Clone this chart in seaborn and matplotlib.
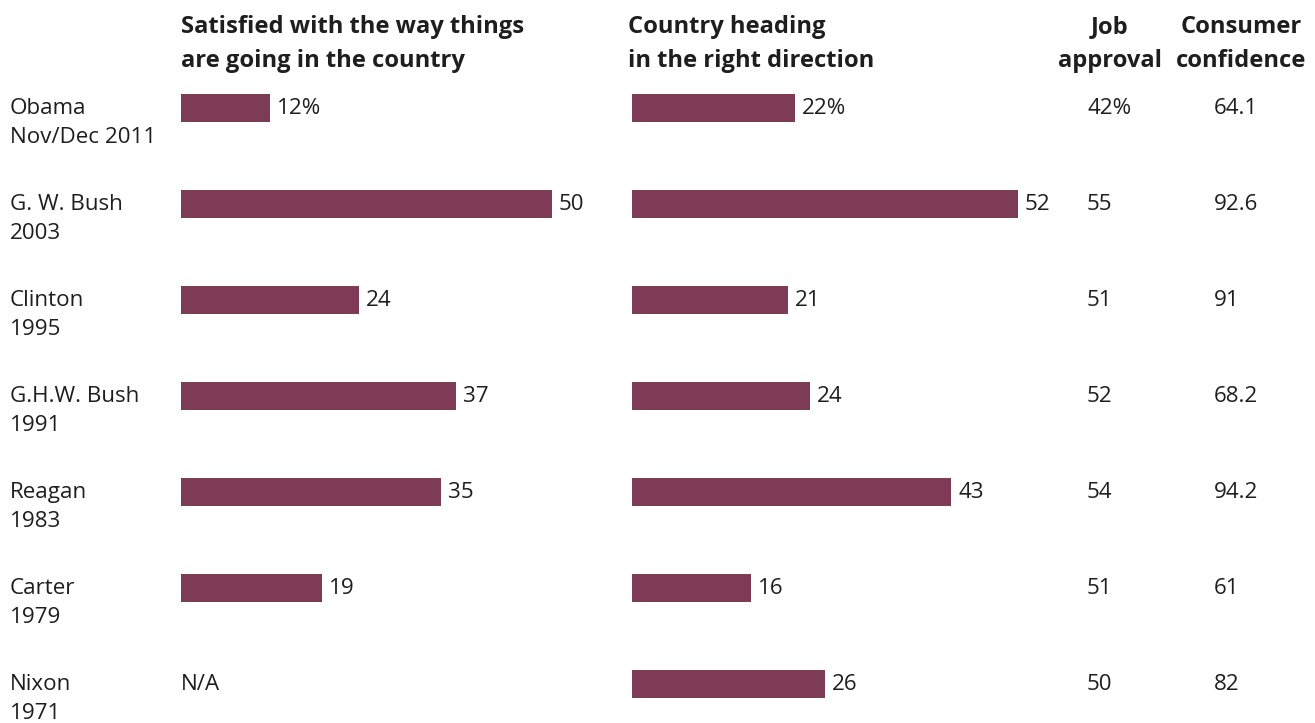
import numpy as np
import pandas as pd
import matplotlib
matplotlib.use("Agg")
import matplotlib.pyplot as plt
import matplotlib.transforms as mtransforms
import seaborn as sns

presidents = ["Obama", "G. W. Bush", "Clinton", "G.H.W. Bush", "Reagan", "Carter", "Nixon"]
years = ["Nov/Dec 2011", "2003", "1995", "1991", "1983", "1979", "1971"]
satisfied = [12, 50, 24, 37, 35, 19, np.nan]
right_direction = [22, 52, 21, 24, 43, 16, 26]
job_approval = [42, 55, 51, 52, 54, 51, 50]
consumer_confidence = [64.1, 92.6, 91, 68.2, 94.2, 61, 82]

sns.set_theme(style="white")
plt.rcParams["font.family"] = ["Open Sans", "DejaVu Sans"]

W, H = 1315, 723
BAR = "#7D3B55"
TXT = "#1e1e1e"
FS = 16.1
HFS = 17.1
ROW_PX = 96.0

df = pd.DataFrame({
    "row": [str(i) for i in range(len(presidents))],
    "satisfied": satisfied,
    "right": right_direction,
})

fig = plt.figure(figsize=(W / 100, H / 100), dpi=100)
fig.patch.set_facecolor("white")

def px_axes(x0, x1, y0, y1):
    return fig.add_axes([x0 / W, 1 - y1 / H, (x1 - x0) / W, (y1 - y0) / H])

scale = 7.42  # px per unit
top_px = 108 - 0.5 * ROW_PX
bottom_px = top_px + 6.9 * ROW_PX
ax_l = px_axes(181, 181 + 60 * scale, top_px, bottom_px)
ax_r = px_axes(632, 632 + 60 * scale, top_px, bottom_px)

name_dy = 6 / ROW_PX
year_dy = 35 / ROW_PX

for ax, col in ((ax_l, "satisfied"), (ax_r, "right")):
    sns.barplot(data=df, x=col, y="row", orient="h", color=BAR, width=0.29,
                saturation=1, linewidth=0, ax=ax)
    ax.set_xlim(0, 60)
    ax.set_ylim(6.4, -0.5)
    ax.axis("off")
    vals = df[col].tolist()
    for i, v in enumerate(vals):
        if np.isnan(v):
            ax.text(0, i + name_dy, "N/A", ha="left", va="baseline", fontsize=FS,
                    color=TXT)
            continue
        lab = f"{v:g}" + ("%" if i == 0 else "")
        off = mtransforms.offset_copy(ax.transData, fig=fig, x=7, y=0, units="dots")
        ax.text(v, i + name_dy, lab, ha="left", va="baseline", fontsize=FS,
                color=TXT, transform=off)

# row labels and extra columns
tr = mtransforms.blended_transform_factory(fig.transFigure, ax_l.transData)
for i, (p, y) in enumerate(zip(presidents, years)):
    ax_l.text(10 / W, i + name_dy, p, transform=tr, ha="left", va="baseline",
              fontsize=FS, color=TXT, clip_on=False)
    ax_l.text(10 / W, i + year_dy, y, transform=tr, ha="left", va="baseline",
              fontsize=FS, color=TXT, clip_on=False)
    ja = f"{job_approval[i]}" + ("%" if i == 0 else "")
    ax_l.text(1087 / W, i + name_dy, ja, transform=tr, ha="left", va="baseline",
              fontsize=FS, color=TXT, clip_on=False)
    ax_l.text(1214 / W, i + name_dy, f"{consumer_confidence[i]:g}", transform=tr,
              ha="left", va="baseline", fontsize=FS, color=TXT, clip_on=False)

# headers (two lines each)
hdr = dict(fontsize=HFS, fontweight="bold", color=TXT, va="baseline")
headers = [
    (181, "left", "Satisfied with the way things", "are going in the country"),
    (628, "left", "Country heading", "in the right direction"),
    (1110, "center", "Job", "approval"),
    (1241, "center", "Consumer", "confidence"),
]
for x, ha, l1, l2 in headers:
    fig.text(x / W, 1 - 33 / H, l1, ha=ha, **hdr)
    fig.text(x / W, 1 - 67 / H, l2, ha=ha, **hdr)

fig.savefig("out.png", dpi=100, facecolor="white")
